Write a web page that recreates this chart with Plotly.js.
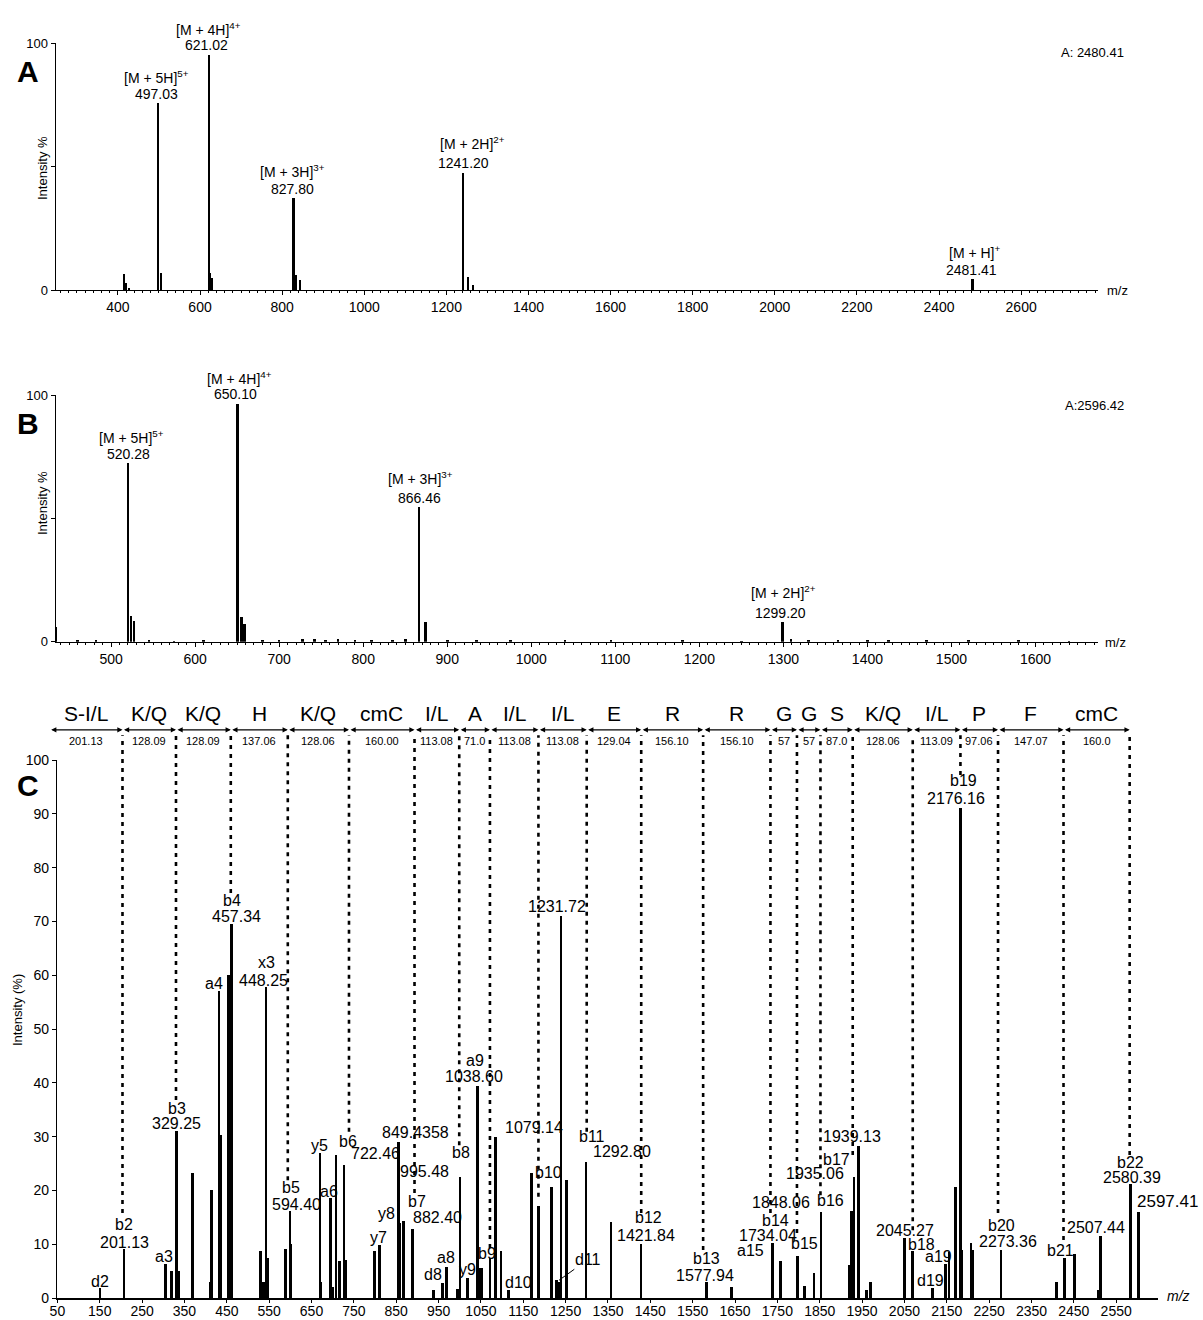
<!DOCTYPE html>
<html><head><meta charset="utf-8">
<script src="https://cdn.plot.ly/plotly-3.0.1.min.js"></script>
<style>html,body{margin:0;padding:0;background:#fff}</style>
</head><body><div id="chart" style="width:1203px;height:1320px"></div>
<script>
// ---------- Panel A ----------
const mzA  = [414, 420.5, 427, 497.03, 504.3, 621.02, 624.5, 628, 827.8, 833.4, 843, 1241.2, 1252, 1264, 2481.41, 2483.5];
const intA = [6.3, 2.7, 1.0, 75.6, 7.0, 95.4, 7.0, 5.0, 37.4, 6.0, 4.0, 47.6, 5.4, 2.0, 4.5, 3.0];
const labelsA = ['[M + 5H]<sup>5+</sup>', '497.03', '[M + 4H]<sup>4+</sup>', '621.02', '[M + 3H]<sup>3+</sup>', '827.80', '[M + 2H]<sup>2+</sup>', '1241.20', '[M + H]<sup>+</sup>', '2481.41'];
const labelAx = [495.2, 492.8, 621, 616.3, 826, 826, 1264, 1240.7, 2487.9, 2478.1];
const labelAy = [86.5, 79.3, 105.9, 99.3, 48.2, 40.8, 59.5, 51.4, 15.3, 8.1];

// ---------- Panel B ----------
const mzB  = [434.5, 520.28, 523.7, 527.4, 650.1, 655, 658.7, 866.46, 873.8, 1299.2, 1309];
const intB = [6, 72.6, 10.5, 8.5, 96.3, 10.1, 7.2, 54.7, 8.1, 8.1, 1];
const mzBnoise  = [460, 482, 545, 575, 610, 680, 700, 728, 742, 755, 770, 790, 810, 835, 850, 900, 935, 975, 1040, 1095, 1180, 1250, 1330, 1365, 1400, 1425, 1470, 1520, 1580, 1640];
const intBnoise = [0.5, 0.6, 0.5, 0.4, 0.5, 0.8, 0.6, 0.9, 1.0, 0.8, 0.9, 0.7, 0.8, 0.6, 0.9, 0.5, 0.6, 0.5, 0.7, 0.5, 0.6, 0.4, 0.6, 0.7, 0.5, 0.8, 0.5, 0.6, 0.5, 0.4];
const labelsB = ['[M + 5H]<sup>5+</sup>', '520.28', '[M + 4H]<sup>4+</sup>', '650.10', '[M + 3H]<sup>3+</sup>', '866.46', '[M + 2H]<sup>2+</sup>', '1299.20'];
const labelBx = [524.8, 521.2, 652.4, 647.9, 868.7, 867.3, 1300.5, 1296.9];
const labelBy = [82.9, 76, 106.8, 100.3, 66.2, 58.4, 20.3, 11.5];

// ---------- Panel C ----------
const mzC = [150.6, 207.3, 305.7, 319.9, 331.7, 337.1, 368.5, 412, 414.3, 431.6, 436.3, 454, 461, 530, 536.7, 542.6, 545.6, 589, 599.2, 601.6, 670, 672.4, 695.3, 699.6, 707.9, 715.6, 726.7, 730.3, 798.3, 810.1, 855, 857.9, 866.8, 889, 937.6, 958.9, 969.2, 995.2, 1000.6, 1018.8, 1041.5, 1047.9, 1051.9, 1071.5, 1085, 1097.5, 1114.7, 1170, 1185.5, 1217.2, 1229, 1234.4, 1239.1, 1252.6, 1298.2, 1357.2, 1428, 1582.5, 1640.8, 1739, 1757.4, 1797.3, 1813.2, 1836.5, 1853, 1919.9, 1925, 1930.7, 1942.3, 1959.1, 1961.7, 1970, 2050.7, 2069.8, 2115.6, 2147.3, 2155.3, 2169.7, 2182.2, 2186, 2207.2, 2211.5, 2278.1, 2409.6, 2428, 2451.2, 2507.1, 2512.8, 2584.6, 2602.8];
const intC = [1.8, 9.2, 6.3, 5.1, 31, 5.1, 23.3, 3, 20, 57, 30.3, 60, 69.6, 8.8, 3, 57.9, 7.4, 9.1, 16.2, 10, 26.9, 3, 18.5, 2, 26.6, 6.8, 24.7, 7, 8.8, 9.85, 29, 14, 14.3, 12.8, 1.5, 2.7, 5.8, 1.6, 22.5, 3.8, 39.4, 5.6, 5.6, 7.4, 29.9, 8.7, 1.4, 23.3, 17.1, 20.7, 3.3, 3, 71, 21.9, 25.2, 14.1, 10, 3, 2.1, 10.3, 6.8, 7.9, 2.3, 4.6, 15.9, 6.1, 16.2, 22.5, 28.3, 1.4, 1.4, 2.9, 11.1, 8.7, 1.8, 6.3, 8.6, 20.7, 91, 8.9, 10.3, 8.9, 8.9, 3, 7.4, 8.1, 1.5, 11.6, 21.2, 15.9];

const labelsC = ['d2','b2','201.13','a3','b3','329.25','a4','b4','457.34','x3','448.25','b5','594.40','y5','a6','b6','722.46','y7','y8','849.4358','b7','882.40','995.48','d8','a8','b8','y9','a9','1038.60','b9','d10','1079.14','b10','1231.72','b11','1292.80','b12','1421.84','b13','1577.94','a15','1734.04','b14','1848.06','b15','b16','1935.06','b17','1939.13','2045.27','b18','d19','a19','b19','2176.16','b20','2273.36','b21','2507.44','b22','2580.39'];
const labelCx = [149.4,208.2,208.2,301.2,331.9,331.9,418.6,461.1,472,542.6,537.8,601.4,614.8,669.1,691.3,736.9,800,809.1,827.1,894.9,899.3,946.3,917.5,935.7,967.1,1003.5,1018.8,1035.1,1033.2,1063.9,1139,1175.1,1208.4,1229.2,1313,1382.4,1445.3,1440.3,1583.6,1578.2,1685.4,1728.7,1744.5,1758.2,1813,1874.3,1839.8,1889.6,1925.9,2051.4,2089.6,2110.4,2130.5,2189.5,2171.3,2280.3,2293.9,2419.3,2502.4,2582.7,2587.4];
const labelCy = [3.0,13.6,10.4,7.7,35.3,32.5,58.5,73.9,70.9,62.4,59.1,20.5,17.3,28.3,19.8,29,26.8,11.2,15.8,30.7,17.9,14.9,23.5,4.3,7.5,27,5.3,44.2,41.2,8.3,2.8,31.7,23.3,72.7,30.1,27.2,15.0,11.6,7.4,4.1,8.8,11.7,14.4,17.7,10.2,18.2,23.2,25.8,30.1,12.5,10,3.3,7.7,96.1,92.8,13.5,10.5,8.9,13.1,25.2,22.4];
// label whose left edge is given
const edgeLabelC = '2597.41', edgeLabelCx = 2593.6, edgeLabelCy = 17.9;
// leader-line label
const d11Label = 'd11', d11Peak = [1234.4, 3.3], d11Text = [1303.4, 7.2];

// sequence ladder
const residues = ['S-I/L','K/Q','K/Q','H','K/Q','cmC','I/L','A','I/L','I/L','E','R','R','G','G','S','K/Q','I/L','P','F','cmC'];
const residueMass = ['201.13','128.09','128.09','137.06','128.06','160.00','113.08','71.0','113.08','113.08','129.04','156.10','156.10','57','57','87.0','128.06','113.09','97.06','147.07','160.0'];
const boundaries = [31.8, 203.7, 330.0, 459.4, 594.0, 738.5, 893.2, 998.8, 1071.3, 1185.8, 1299.8, 1428.5, 1574.7, 1733.6, 1796.2, 1851.7, 1927.9, 2069.6, 2182.2, 2271.0, 2425.6, 2581.8];
const dashBottom = [15.8, 36.8, 75.3, 21.9, 30.9, 19.5, 28.4, 9.3, 18.8, 30.9, 15.8, 8.9, 15.8, 12.1, 19.1, 26.6, 12.6, 97.2, 15.8, 10.8, 26.6];

// ---------- geometry ----------
const W = 1203, H = 1320;
const px = p => p / W, py = p => 1 - p / H;
const FONT = 'Liberation Sans, Arial, sans-serif';
const ppuA = 2.467, ppuB = 2.467, ppuC = 5.38;
const yTopC4 = (1298 - 700) / ppuC;
const ladderArrowY = 105.6, ladderNumY = 103.6, ladderLetterY = 108.7, dashTop = 104.6;

const traces = [];
traces.push({type:'bar', x:mzA, y:intA, xaxis:'x', yaxis:'y', width:5.5, marker:{color:'#000', line:{width:0}}, hoverinfo:'skip'});
traces.push({type:'bar', x:mzB, y:intB, xaxis:'x2', yaxis:'y2', width:3, marker:{color:'#000', line:{width:0}}, hoverinfo:'skip'});
traces.push({type:'bar', x:mzBnoise, y:intBnoise, xaxis:'x2', yaxis:'y2', width:3, marker:{color:'#000', line:{width:0}}, hoverinfo:'skip'});
traces.push({type:'bar', x:mzC, y:intC, xaxis:'x3', yaxis:'y3', width:6.5, marker:{color:'#000', line:{width:0}}, hoverinfo:'skip'});

// dashed guide lines
const dx = [], dy = [];
for (let i = 1; i < boundaries.length; i++) {
  dx.push(boundaries[i], boundaries[i], null);
  dy.push(dashBottom[i-1], dashTop, null);
}
traces.push({type:'scatter', mode:'lines', x:dx, y:dy, xaxis:'x3', yaxis:'y4', line:{color:'#000', width:2.6, dash:'4px,5px'}, hoverinfo:'skip'});

const ann = [];
function clampY(v) { return v > 100 ? [100, v - 100] : [v, 0]; }
labelsA.forEach((t, i) => {
  const [y, extra] = clampY(labelAy[i]);
  ann.push({xref:'x', yref:'y', x:labelAx[i], y:y, yshift:extra*ppuA, text:t, showarrow:false, xanchor:'center', yanchor:'middle', font:{family:FONT, size:14, color:'#000'}});
});
labelsB.forEach((t, i) => {
  const [y, extra] = clampY(labelBy[i]);
  ann.push({xref:'x2', yref:'y2', x:labelBx[i], y:y, yshift:extra*ppuB, text:t, showarrow:false, xanchor:'center', yanchor:'middle', font:{family:FONT, size:14, color:'#000'}});
});
labelsC.forEach((t, i) => {
  ann.push({xref:'x3', yref:'y4', x:labelCx[i], y:labelCy[i], text:t, showarrow:false, xanchor:'center', yanchor:'middle', font:{family:FONT, size:16, color:'#000'}});
});
ann.push({xref:'x3', yref:'y4', x:edgeLabelCx, y:edgeLabelCy, text:edgeLabelC, showarrow:false, xanchor:'left', yanchor:'middle', font:{family:FONT, size:17, color:'#000'}});
ann.push({xref:'x3', yref:'y4', axref:'x3', ayref:'y4', x:d11Peak[0], y:d11Peak[1], ax:d11Text[0], ay:d11Text[1], text:d11Label, showarrow:true, arrowhead:0, arrowwidth:1, arrowcolor:'#000', standoff:0, font:{family:FONT, size:16, color:'#000'}});

// ladder
for (let i = 0; i < residues.length; i++) {
  const a = boundaries[i], b = boundaries[i+1], c = (a + b) / 2;
  ann.push({xref:'x3', yref:'y4', axref:'x3', ayref:'y4', x:b, y:ladderArrowY, ax:a, ay:ladderArrowY, text:'', showarrow:true, arrowside:'end+start', arrowhead:2, arrowsize:0.8, arrowwidth:1.3, arrowcolor:'#000', standoff:0, startstandoff:0});
  ann.push({xref:'x3', yref:'y4', x:c, y:ladderNumY, text:residueMass[i], showarrow:false, xanchor:'center', yanchor:'middle', font:{family:FONT, size:11, color:'#000'}});
  ann.push({xref:'x3', yref:'y4', x:c, y:ladderLetterY, text:residues[i], showarrow:false, xanchor:'center', yanchor:'middle', font:{family:FONT, size:21, color:'#000'}});
}

// panel texts
const paperText = (x, y, t, size, extra) => Object.assign({xref:'paper', yref:'paper', x:px(x), y:py(y), text:t, showarrow:false, xanchor:'center', yanchor:'middle', font:{family:FONT, size:size, color:'#000'}}, extra||{});
ann.push(paperText(28, 71, '<b>A</b>', 30));
ann.push(paperText(28, 423, '<b>B</b>', 30));
ann.push(paperText(28, 785, '<b>C</b>', 30));
ann.push(paperText(1092, 52, 'A: 2480.41', 13));
ann.push(paperText(1094, 405, 'A:2596.42', 13));
ann.push(paperText(1117, 290, 'm/z', 13));
ann.push(paperText(1115, 643, 'm/z', 13));
ann.push(paperText(1178, 1296, '<i>m/z</i>', 14));
ann.push(paperText(43, 168, 'Intensity %', 13, {textangle:-90}));
ann.push(paperText(42, 503, 'Intensity %', 13, {textangle:-90}));
ann.push(paperText(17, 1010, 'Intensity (%)', 13, {textangle:-90}));

const axBase = {showgrid:false, zeroline:false, showline:true, linecolor:'#000', ticks:'outside', tickcolor:'#000', tickfont:{family:FONT, size:14, color:'#000'}};
const layout = {
  width:W, height:H, margin:{l:0, r:0, t:0, b:0}, paper_bgcolor:'#fff', plot_bgcolor:'rgba(0,0,0,0)',
  showlegend:false, barmode:'overlay', bargap:0,
  xaxis: Object.assign({}, axBase, {domain:[px(55.5), px(1097.5)], range:[248, 2786], anchor:'y', tick0:0, dtick:200, ticklen:4, linewidth:1,
    minor:{dtick:20, ticklen:2, ticks:'outside', tickcolor:'#000'}}),
  yaxis: Object.assign({}, axBase, {domain:[py(290), py(43.3)], range:[0,100], anchor:'x', tickvals:[0,50,100], ticktext:['0','','100'], ticklen:4, linewidth:1,
    tickfont:{family:FONT, size:13, color:'#000'}}),
  xaxis2: Object.assign({}, axBase, {domain:[px(55.5), px(1097.5)], range:[433.8, 1673.8], anchor:'y2', tick0:0, dtick:100, ticklen:4, linewidth:1,
    minor:{dtick:10, ticklen:2, ticks:'outside', tickcolor:'#000'}}),
  yaxis2: Object.assign({}, axBase, {domain:[py(641.7), py(395)], range:[0,100], anchor:'x2', tickvals:[0,50,100], ticktext:['0','','100'], ticklen:4, linewidth:1,
    tickfont:{family:FONT, size:13, color:'#000'}}),
  xaxis3: Object.assign({}, axBase, {domain:[px(57.4), px(1157.7)], range:[50, 2648], anchor:'y3', tick0:50, dtick:100, ticklen:3, linewidth:1.6,
    ticklabelstandoff:-3, tickfont:{family:FONT, size:14, color:'#000'}}),
  yaxis3: Object.assign({}, axBase, {domain:[py(1298), py(760)], range:[0,100], anchor:'x3', dtick:10, ticklen:4, linewidth:1.6}),
  yaxis4: {domain:[py(1298), py(700)], range:[0, yTopC4], anchor:'x3', visible:false, showgrid:false, zeroline:false},
  annotations: ann
};
Plotly.newPlot('chart', traces, layout, {staticPlot:true, displayModeBar:false});
</script></body></html>
